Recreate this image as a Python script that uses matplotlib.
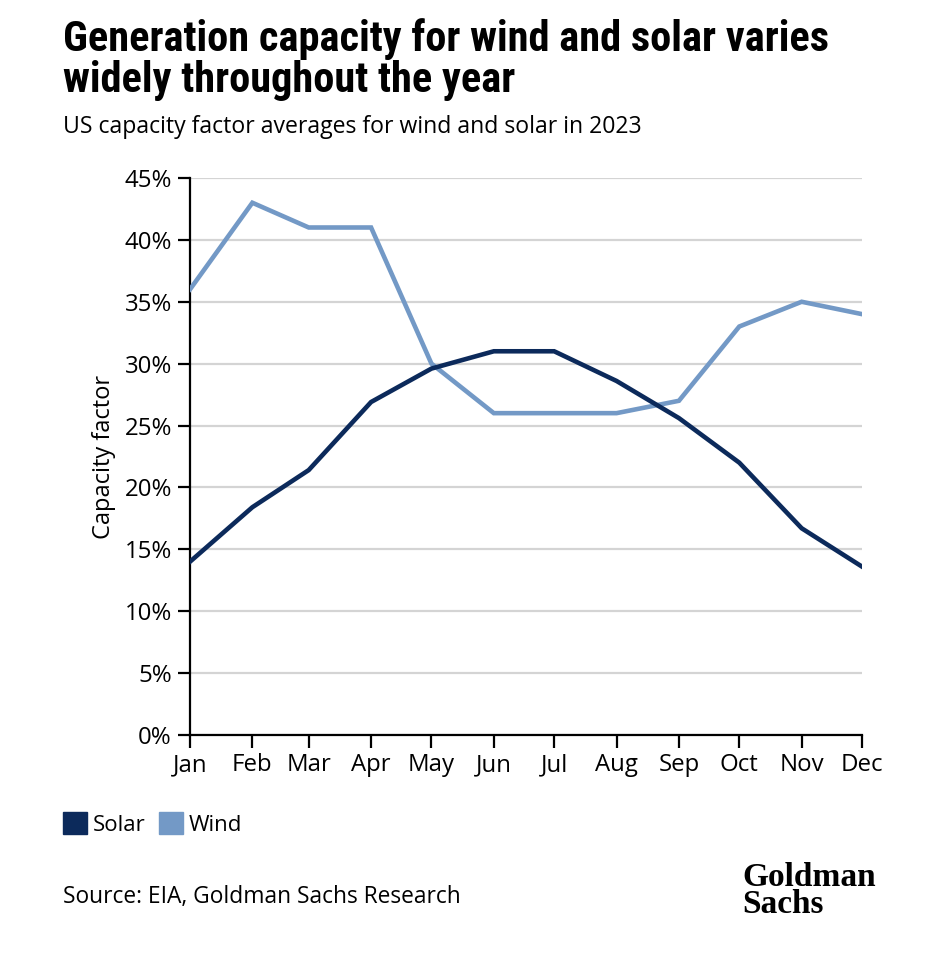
import numpy as np
import pandas as pd
import matplotlib
matplotlib.use("Agg")
from matplotlib import pyplot as plt
from matplotlib.patches import Patch

# data (first day of each month, 2023)
months = ['Jan', 'Feb', 'Mar', 'Apr', 'May', 'Jun', 'Jul', 'Aug', 'Sep', 'Oct', 'Nov', 'Dec']
dates = pd.date_range('2023-01-01', periods=12, freq='MS')
solar = [14.0, 18.4, 21.4, 26.9, 29.6, 31.0, 31.0, 28.6, 25.6, 22.0, 16.7, 13.6]
wind = [36.0, 43.0, 41.0, 41.0, 30.0, 26.0, 26.0, 26.0, 27.0, 33.0, 35.0, 34.0]
yticks = [0, 5, 10, 15, 20, 25, 30, 35, 40, 45]

solar_col = '#0c2a5b'
wind_col = '#7399c6'
body_font = ['Open Sans', 'Lato', 'DejaVu Sans']
title_font = ['Roboto Condensed', 'Liberation Sans Narrow', 'Roboto', 'DejaVu Sans']

plt.rcParams['font.family'] = body_font

fig = plt.figure(figsize=(9.5, 9.6), dpi=100)
ax = fig.add_axes([0.2, 0.2344, 0.7074, 0.5802])

ax.plot(dates, wind, color=wind_col, lw=3.3, solid_joinstyle='miter', zorder=3)
ax.plot(dates, solar, color=solar_col, lw=3.3, solid_joinstyle='miter', zorder=4)

ax.set_xlim(dates[0], dates[-1])
ax.set_ylim(0, 45)
ax.set_yticks(yticks)
ax.set_yticklabels([f'{v}%' for v in yticks])
ax.set_xticks(dates)
ax.set_xticklabels(months)

ax.grid(axis='y', color='#d4d4d4', lw=1.6, zorder=0)
ax.set_axisbelow(True)
for s in ['top', 'right']:
    ax.spines[s].set_visible(False)
for s in ['left', 'bottom']:
    ax.spines[s].set_linewidth(1.6)
    ax.spines[s].set_color('black')
ax.tick_params(axis='both', length=9, width=1.6, color='black', labelsize=17.3, pad=4)
ax.set_ylabel('Capacity factor', fontsize=17, labelpad=6)

fig.text(63/950, 1 - 60/960, 'Generation capacity for wind and solar varies\nwidely throughout the year',
         fontsize=30.5, fontweight='bold', family=title_font, va='center', linespacing=1.0)
fig.text(63/950, 1 - 127/960, 'US capacity factor averages for wind and solar in 2023',
         fontsize=16.6, va='center')

handles = [Patch(color=solar_col, label='Solar'), Patch(color=wind_col, label='Wind')]
fig.legend(handles=handles, loc='center left', bbox_to_anchor=(54/950, 1 - 824/960), ncol=2,
           frameon=False, fontsize=16, handlelength=1.1, handleheight=1.1,
           handletextpad=0.25, columnspacing=0.6, borderaxespad=0)

fig.text(63/950, 1 - 897/960, 'Source: EIA, Goldman Sachs Research', fontsize=16.4, va='center')
fig.text(742/950, 1 - 891/960, 'Goldman\nSachs', fontsize=24, fontweight='bold',
         family=['Liberation Serif', 'DejaVu Serif'], va='center', linespacing=0.8)

fig.savefig('out.png', dpi=100, facecolor='white')
